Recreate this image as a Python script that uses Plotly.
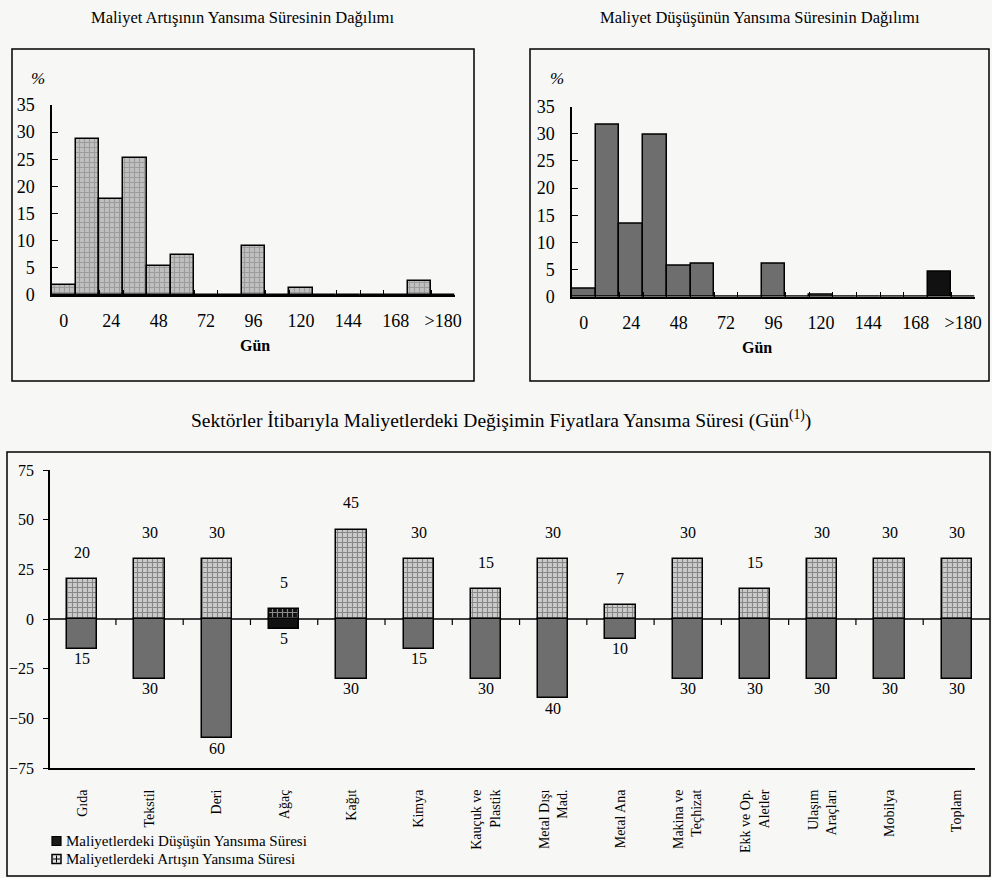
import plotly.graph_objects as go

# ---- data ---------------------------------------------------------------
day_bins = ["0", "12", "24", "36", "48", "60", "72", "84", "96", "108",
            "120", "132", "144", "156", "168", "180", ">180"]
artis_share = [1.8, 28.7, 17.6, 25.2, 5.4, 7.4, 0, 0, 9.1, 0,
               1.3, 0, 0, 0, 0, 2.6, 0]
dusus_share = [1.5, 31.7, 13.5, 29.9, 5.8, 6.1, 0, 0, 6.1, 0,
               0.4, 0, 0, 0, 0, 4.6, 0]
hist_y_ticks = [0, 5, 10, 15, 20, 25, 30, 35]

sectors = ["Gıda", "Tekstil", "Deri", "Ağaç", "Kağıt", "Kimya",
           "Kauçuk ve<br>Plastik", "Metal Dışı<br>Mad.", "Metal Ana",
           "Makina ve<br>Teçhizat", "Ekk ve Op.<br>Aletler",
           "Ulaşım<br>Araçları", "Mobilya", "Toplam"]
artis_days = [20, 30, 30, 5, 45, 30, 15, 30, 7, 30, 15, 30, 30, 30]
dusus_days = [15, 30, 60, 5, 30, 15, 30, 40, 10, 30, 30, 30, 30, 30]
sector_y_ticks = [75, 50, 25, 0, -25, -50, -75]

legend_names = ["Maliyetlerdeki Düşüşün Yansıma Süresi",
                "Maliyetlerdeki Artışın Yansıma Süresi"]

# ---- styling ------------------------------------------------------------
W, H = 992, 878
FONT = "Liberation Serif"
BG = "#f7f7f6"
CHECK_BG = "#c0c0c0"
CHECK_FG = "#787878"
DARK = "#6e6e6e"


def px(x):
    return x / W


def py(y):
    return 1 - y / H


def label(x, y, text, size, xanchor="center"):
    return dict(x=px(x), y=py(y), xref="paper", yref="paper", text=text,
                showarrow=False, xanchor=xanchor, yanchor="middle",
                font=dict(family=FONT, size=size, color="black"))


fig = go.Figure()

# ---- top histograms -----------------------------------------------------
idx = list(range(len(day_bins)))
fig.add_trace(go.Bar(
    x=idx, y=artis_share, xaxis="x", yaxis="y", width=1.0,
    marker=dict(color=CHECK_BG, line=dict(color="black", width=1.5),
                pattern=dict(shape="+", bgcolor=CHECK_BG, fgcolor=CHECK_FG,
                             size=5, solidity=0.4)),
    showlegend=False, hoverinfo="skip"))

dusus_colors = [DARK] * len(day_bins)
dusus_colors[day_bins.index("180")] = "#111111"
fig.add_trace(go.Bar(
    x=idx, y=dusus_share, xaxis="x2", yaxis="y2", width=1.0,
    marker=dict(color=dusus_colors, line=dict(color="black", width=1.5)),
    showlegend=False, hoverinfo="skip"))

# ---- sector chart -------------------------------------------------------
sidx = list(range(len(sectors)))
neg_colors = ["#111111" if s == "Ağaç" else DARK for s in sectors]
pos_bg = ["#111111" if s == "Ağaç" else "#cbcbcb" for s in sectors]
pos_fg = ["#ffffff" if s == "Ağaç" else "#888888" for s in sectors]

fig.add_trace(go.Bar(
    x=sidx, y=[-v for v in dusus_days], xaxis="x3", yaxis="y3", width=0.45,
    name=legend_names[0], showlegend=False,
    marker=dict(color=neg_colors, line=dict(color="black", width=1.5)),
    hoverinfo="skip"))
fig.add_trace(go.Bar(
    x=sidx, y=artis_days, xaxis="x3", yaxis="y3", width=0.45,
    name=legend_names[1], showlegend=False,
    marker=dict(color=pos_bg, line=dict(color="black", width=1.5),
                pattern=dict(shape="+", bgcolor=pos_bg, fgcolor=pos_fg,
                             size=5, solidity=0.4)),
    hoverinfo="skip"))

annotations = []
for i, (a, d) in enumerate(zip(artis_days, dusus_days)):
    annotations.append(dict(x=i, y=a, xref="x3", yref="y3", text=str(a),
                            showarrow=False, yshift=27, yanchor="middle",
                            xanchor="center",
                            font=dict(family=FONT, size=16, color="black")))
    annotations.append(dict(x=i, y=-d, xref="x3", yref="y3", text=str(d),
                            showarrow=False, yshift=-10, yanchor="middle",
                            xanchor="center",
                            font=dict(family=FONT, size=16, color="black")))

# titles, axis captions and the legend texts
annotations += [
    label(242, 17, "Maliyet Artışının Yansıma Süresinin Dağılımı", 16.5),
    label(760, 17, "Maliyet Düşüşünün Yansıma Süresinin Dağılımı", 16.5),
    label(501, 420, "Sektörler İtibarıyla Maliyetlerdeki Değişimin Fiyatlara "
                    "Yansıma Süresi (Gün<sup>(1)</sup>)", 19.5),
    label(38, 78, "<i>%</i>", 17),
    label(557, 78, "<i>%</i>", 17),
    label(255, 345, "<b>Gün</b>", 16),
    label(757, 347, "<b>Gün</b>", 16),
    label(64, 841, legend_names[0], 15, xanchor="left"),
    label(64, 859, legend_names[1], 15, xanchor="left"),
]

# panel frames, zero line and boundary ticks of the sector chart
shapes = [
    dict(type="rect", xref="paper", yref="paper", x0=px(12), x1=px(474),
         y0=py(381), y1=py(49), line=dict(color="black", width=1.5),
         layer="below"),
    dict(type="rect", xref="paper", yref="paper", x0=px(530), x1=px(989),
         y0=py(381), y1=py(49), line=dict(color="black", width=1.5),
         layer="below"),
    dict(type="rect", xref="paper", yref="paper", x0=px(7), x1=px(990),
         y0=py(876), y1=py(452), line=dict(color="black", width=1.5),
         layer="below"),
    dict(type="line", xref="paper", yref="y3", x0=px(50), x1=px(990),
         y0=0, y1=0, line=dict(color="black", width=1.5), layer="below"),
    # legend keys
    dict(type="rect", xref="paper", yref="paper", x0=px(52), x1=px(61),
         y0=py(845.5), y1=py(836.5), fillcolor="#1a1a1a",
         line=dict(color="black", width=1.2)),
    dict(type="rect", xref="paper", yref="paper", x0=px(52), x1=px(61),
         y0=py(863.5), y1=py(854.5), fillcolor="#e2e2e2",
         line=dict(color="black", width=1.5)),
    dict(type="line", xref="paper", yref="paper", x0=px(53), x1=px(60),
         y0=py(859), y1=py(859), line=dict(color="black", width=1)),
    dict(type="line", xref="paper", yref="paper", x0=px(56.5), x1=px(56.5),
         y0=py(862.5), y1=py(855.5), line=dict(color="black", width=1)),
]
for i in range(len(sectors) - 1):
    shapes.append(dict(type="line", xref="x3", yref="y3", ysizemode="pixel",
                       yanchor=0, x0=i + 0.5, x1=i + 0.5, y0=0, y1=-6,
                       line=dict(color="black", width=1.2)))

tick_font = dict(family=FONT, size=18, color="black")
label_idx = [i for i in idx if i % 2 == 0 and day_bins[i] != "180"]
if len(day_bins) - 1 not in label_idx:
    label_idx.append(len(day_bins) - 1)
hist_xaxis = dict(
    range=[-0.5, len(day_bins) - 0.5], showline=True, linecolor="black",
    linewidth=1.5, tickmode="array", tickvals=label_idx,
    ticktext=[day_bins[i] for i in label_idx], ticks="",
    ticklabelstandoff=9, tickfont=tick_font, showgrid=False, zeroline=False,
    minor=dict(tickvals=[i + 0.5 for i in idx[:-1]], ticks="inside",
               ticklen=5, tickcolor="black", tickwidth=1.2, showgrid=False),
    automargin=False, fixedrange=True)
hist_yaxis = dict(
    range=[0, 35], showline=True, linecolor="black", linewidth=1.5,
    tickmode="array", tickvals=hist_y_ticks, ticks="inside", ticklen=6,
    tickcolor="black", tickwidth=1.2, ticklabelstandoff=12,
    tickfont=tick_font, showgrid=False, zeroline=False, automargin=False,
    fixedrange=True)

fig.update_layout(
    width=W, height=H,
    margin=dict(l=0, r=0, t=0, b=0, pad=0, autoexpand=False),
    paper_bgcolor=BG, plot_bgcolor=BG,
    barmode="relative", bargap=0, showlegend=False,
    font=dict(family=FONT, color="black"),
    xaxis=dict(domain=[px(52), px(455)], anchor="y", **hist_xaxis),
    yaxis=dict(domain=[py(295), py(105)], anchor="x", **hist_yaxis),
    xaxis2=dict(domain=[px(572), px(975)], anchor="y2", **hist_xaxis),
    yaxis2=dict(domain=[py(296.7), py(106.7)], anchor="x2", **hist_yaxis),
    xaxis3=dict(domain=[px(50), px(975)], anchor="y3",
                range=[-0.48, len(sectors) - 0.73], showline=True,
                linecolor="black", linewidth=2, tickmode="array",
                tickvals=sidx, ticktext=sectors, tickangle=-90, ticks="",
                ticklabelstandoff=14,
                tickfont=dict(family=FONT, size=14, color="black"),
                showgrid=False, zeroline=False, automargin=False,
                fixedrange=True),
    yaxis3=dict(domain=[py(768), py(470)], anchor="x3", range=[-75, 75],
                showline=True, linecolor="black", linewidth=1.5,
                tickmode="array", tickvals=sector_y_ticks, ticks="outside",
                ticklen=5, tickcolor="black", ticklabelstandoff=6,
                tickfont=dict(family=FONT, size=16, color="black"),
                showgrid=False, zeroline=False, automargin=False,
                fixedrange=True),
    annotations=annotations, shapes=shapes,
)

fig.write_html("out.html")
